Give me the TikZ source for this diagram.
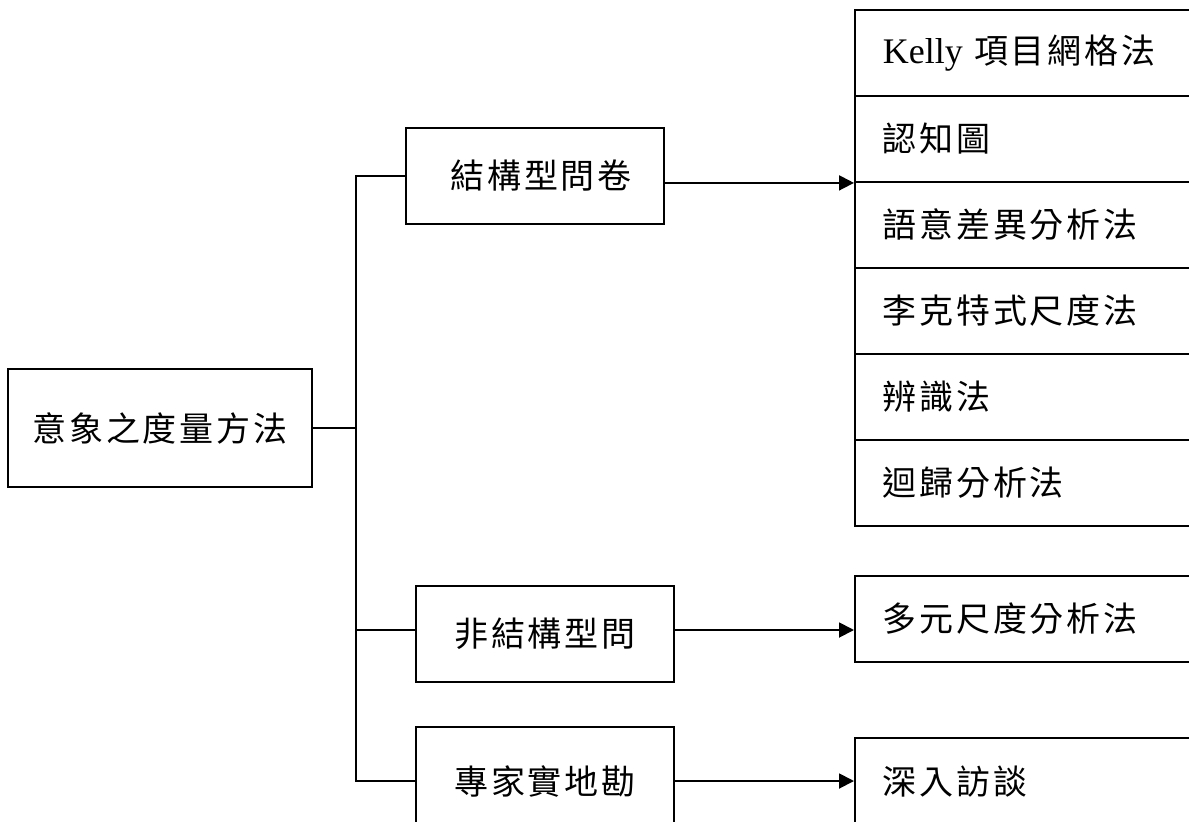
\documentclass[tikz,border=0pt]{standalone}
\usepackage{fontspec}
\setmainfont{Liberation Serif}
\newfontfamily\cjk{Noto Sans CJK TC}[LetterSpace=8]
\usetikzlibrary{arrows.meta}
\begin{document}
\begin{tikzpicture}[x=1pt,y=-1pt,line width=1.9pt,
  box/.style={draw,line width=1.9pt,inner sep=0pt,font=\cjk\fontsize{34}{40}\selectfont},
  rowbox/.style={box,anchor=north west,minimum width=420pt,minimum height=86pt,text width=364pt,align=left,inner xsep=28pt},
  arr/.style={-{Triangle[length=15pt,width=15pt]}}]
\useasboundingbox (0,0) rectangle (1189,822);
\clip (0,0) rectangle (1189,822);
% right stack
\node[rowbox] (r1) at (854,9) {{\rmfamily\fontsize{36}{40}\selectfont Kelly} 項目網格法};
\node[rowbox] (r2) at (854,95) {認知圖};
\node[rowbox] (r3) at (854,181) {語意差異分析法};
\node[rowbox] (r4) at (854,267) {李克特式尺度法};
\node[rowbox] (r5) at (854,353) {辨識法};
\node[rowbox] (r6) at (854,439) {迴歸分析法};
\node[rowbox] (M) at (854,575) {多元尺度分析法};
\node[rowbox,minimum height=88pt] (D) at (854,737) {深入訪談};
% main boxes
\node[box,minimum width=304pt,minimum height=118pt] (root) at (160,428) {意象之度量方法};
\node[box,minimum width=258pt,minimum height=96pt] (A) at (535,176) {\hspace{12pt}結構型問卷};
\node[box,minimum width=258pt,minimum height=96pt] (B) at (545,634) {非結構型問};
\node[box,minimum width=258pt,minimum height=108pt] (C) at (545,781) {專家實地勘};
% trunk
\coordinate (T) at (356,0);
\draw (root.east) -- (root.east -| T);
\draw (A.west) -- (A.west -| T) |- (C.west);
\draw ([yshift=4pt]B.west) -- ([yshift=4pt]B.west -| T);
% arrows
\draw[arr] (A.east |- r2.south west) -- (r2.south west);
\draw[arr] ([yshift=4pt]B.east) -- ([yshift=4pt]B.east -| M.west);
\draw[arr] (C.east) -- (C.east -| D.west);
\end{tikzpicture}
\end{document}
